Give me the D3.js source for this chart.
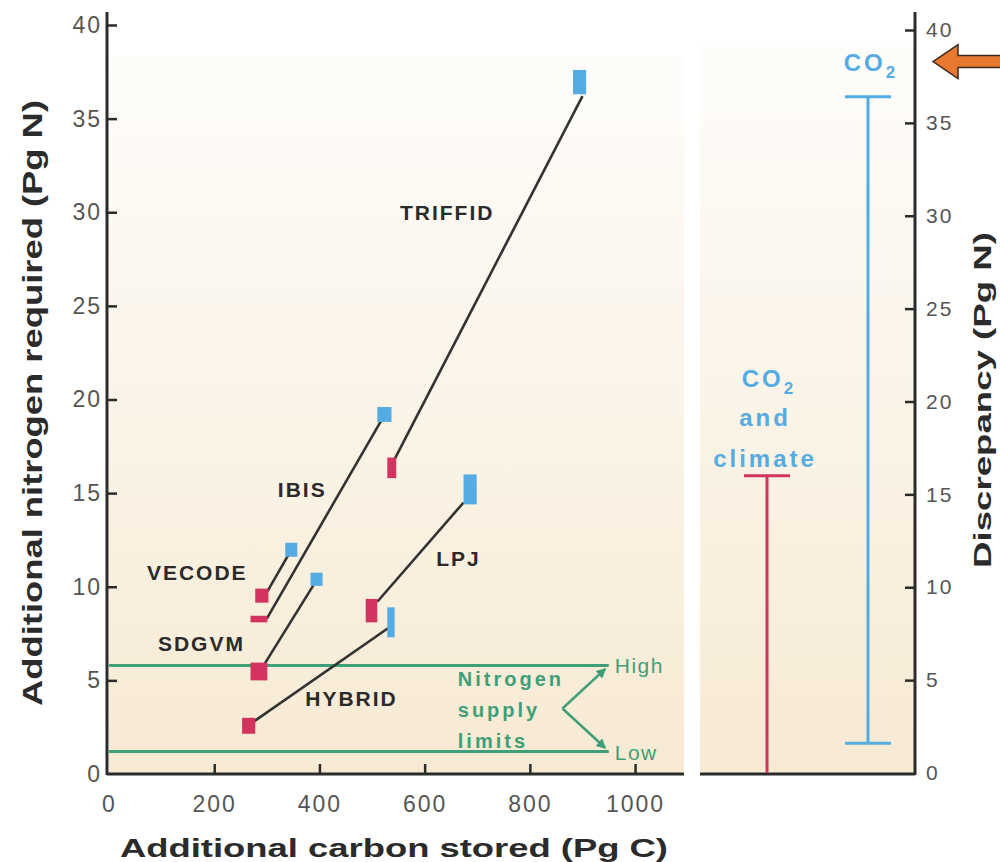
<!DOCTYPE html>
<html>
<head>
<meta charset="utf-8">
<script src="https://cdn.jsdelivr.net/npm/d3@7/dist/d3.min.js"></script>
<style>
  body { margin: 0; background: #fff; }
  svg { display: block; font-family: "Liberation Sans", Arial, sans-serif; }
</style>
</head>
<body>
<svg width="1000" height="862"></svg>
<script>
// models, line ends (Pg C, Pg N)
const models = ["TRIFFID", "IBIS", "VECODE", "SDGVM", "HYBRID", "LPJ"]
const startC = [539, 300, 300, 294, 275, 510]
const startN = [16.6, 8.3, 9.7, 5.8, 2.8, 9.2]
const endC = [900, 518, 341, 389, 531, 674]
const endN = [36.2, 18.9, 11.7, 10.1, 7.8, 14.5]

// red boxes: CO2 and climate runs
const climCLo = [529, 269, 278, 269, 253, 488]
const climCHi = [546, 301, 303, 301, 278, 510]
const climNLo = [15.8, 8.1, 9.15, 5.0, 2.15, 8.1]
const climNHi = [16.9, 8.45, 9.9, 5.95, 3.0, 9.35]

// blue boxes: CO2 only runs
const co2CLo = [882, 510, 335, 383, 529, 674]
const co2CHi = [907, 537, 358, 406, 543, 699]
const co2NLo = [36.3, 18.8, 11.6, 10.05, 7.3, 14.4]
const co2NHi = [37.6, 19.6, 12.35, 10.75, 8.9, 16.0]

// model label anchors
const labelC = [553, 321, 72, 93, 373, 622]
const labelN = [30.0, 15.2, 10.8, 7.0, 4.05, 11.55]

const xTicks = [0, 200, 400, 600, 800, 1000]
const yTicks = [0, 5, 10, 15, 20, 25, 30, 35, 40]

const supplyNames = ["High", "Low"]
const supplyN = [5.8, 1.2]
const supplyEndC = 950
const bracketC = 862
const bracketN = 3.5

const discCats = ["CO2 and climate", "CO2"]
const discLo = [0, 1.6]
const discHi = [16, 36.4]
const arrowN = 38.3

const red = "#d3335f", blue = "#55ace3", green = "#3f9f77", ink = "#2b2b2b"

const svg = d3.select("svg")
const x = d3.scaleLinear().domain([0, 1093]).range([109, 684])
const y = d3.scaleLinear().domain([0, 40]).range([774, 25])
const ry = d3.scaleLinear().domain([0, 40]).range([773, 30])
const dx = d3.scalePoint().domain(discCats).range([767, 868])
const rightLeft = 700, rightAxisX = 915

// gradient background
const defs = svg.append("defs")
const grad = defs.append("linearGradient").attr("id", "bg").attr("x1", 0).attr("y1", 0).attr("x2", 0).attr("y2", 1)
grad.append("stop").attr("offset", "0%").attr("stop-color", "#fefdfb")
grad.append("stop").attr("offset", "100%").attr("stop-color", "#f7ead3")

const mk = (id, col) => defs.append("marker").attr("id", id)
  .attr("viewBox", "0 0 10 10").attr("refX", 8).attr("refY", 5)
  .attr("markerWidth", 4).attr("markerHeight", 4).attr("orient", "auto")
  .append("path").attr("d", "M0,0L10,5L0,10z").attr("fill", col)
mk("garrow", green)

const panelTop = 56
svg.append("rect").attr("x", x(0)).attr("y", panelTop)
  .attr("width", x.range()[1] - x(0)).attr("height", y(0) - panelTop).attr("fill", "url(#bg)")
svg.append("rect").attr("x", rightLeft).attr("y", panelTop - 10)
  .attr("width", rightAxisX - rightLeft).attr("height", y(0) - panelTop + 10).attr("fill", "url(#bg)")

// nitrogen supply limits
svg.append("g").selectAll("line").data(supplyN).enter().append("line")
  .attr("x1", x(0)).attr("x2", x(supplyEndC))
  .attr("y1", d => y(d)).attr("y2", d => y(d))
  .attr("stroke", green).attr("stroke-width", 3)

svg.append("g").selectAll("path").data(supplyN).enter().append("path")
  .attr("d", d => `M${x(bracketC)},${y(bracketN)}L${x(supplyEndC) - 4},${y(d) + (d > bracketN ? 4 : -4)}`)
  .attr("stroke", green).attr("stroke-width", 2.5).attr("fill", "none")
  .attr("marker-end", "url(#garrow)")

svg.append("g").selectAll("text").data(supplyNames).enter().append("text")
  .attr("x", x(supplyEndC) + 6).attr("y", (d, i) => y(supplyN[i]) + 8)
  .attr("font-size", 21).attr("letter-spacing", 1.5).attr("fill", green)
  .text(d => d)

const supLab = svg.append("text").attr("font-size", 20).attr("font-weight", "bold")
  .attr("letter-spacing", 3).attr("fill", green)
;["Nitrogen", "supply", "limits"].forEach((t, i) => {
  supLab.append("tspan").attr("x", x(663)).attr("y", y(4.6) + i * 31 - 2).text(t)
})

// model lines
svg.append("g").selectAll("line").data(models).enter().append("line")
  .attr("x1", (d, i) => x(startC[i])).attr("y1", (d, i) => y(startN[i]))
  .attr("x2", (d, i) => x(endC[i])).attr("y2", (d, i) => y(endN[i]))
  .attr("stroke", "#333").attr("stroke-width", 2.6)

// boxes
const boxes = (lo, hi, nlo, nhi, col) => svg.append("g").selectAll("rect").data(models).enter().append("rect")
  .attr("x", (d, i) => x(lo[i])).attr("width", (d, i) => x(hi[i]) - x(lo[i]))
  .attr("y", (d, i) => y(nhi[i])).attr("height", (d, i) => y(nlo[i]) - y(nhi[i]))
  .attr("fill", col)
boxes(climCLo, climCHi, climNLo, climNHi, red)
boxes(co2CLo, co2CHi, co2NLo, co2NHi, blue)

svg.append("g").selectAll("text").data(models).enter().append("text")
  .attr("x", (d, i) => x(labelC[i])).attr("y", (d, i) => y(labelN[i]) + 8)
  .attr("font-size", 21).attr("font-weight", "bold").attr("letter-spacing", 2).attr("fill", "#2a2a2a")
  .text(d => d)

// axes
const tickFont = sel => sel.selectAll("text").attr("font-size", 23).attr("letter-spacing", 2)
  .attr("fill", "#555").attr("font-family", "Liberation Sans, Arial, sans-serif")

const xAxis = svg.append("g").attr("transform", `translate(0,${y(0)})`)
  .call(d3.axisBottom(x).tickValues(xTicks).tickFormat(d3.format("d")).tickSize(-10).tickPadding(22).tickSizeOuter(0))
xAxis.select(".domain").remove()
xAxis.selectAll("line").attr("stroke", ink).attr("stroke-width", 2.5)
xAxis.call(tickFont)
xAxis.selectAll(".tick").filter(d => d === 0).select("line").remove()

const yAxis = svg.append("g").attr("transform", `translate(${x(0) - 2},0)`)
  .call(d3.axisLeft(y).tickValues(yTicks).tickSize(-10).tickPadding(5).tickSizeOuter(0))
yAxis.select(".domain").remove()
yAxis.selectAll("line").attr("stroke", ink).attr("stroke-width", 2.5)
yAxis.call(tickFont)
yAxis.selectAll(".tick").filter(d => d === 0).select("line").remove()

svg.append("line").attr("x1", x(0) - 2).attr("x2", x(0) - 2).attr("y1", 12).attr("y2", y(0) + 1)
  .attr("stroke", ink).attr("stroke-width", 3)
svg.append("line").attr("x1", x(0) - 2).attr("x2", x.range()[1]).attr("y1", y(0)).attr("y2", y(0))
  .attr("stroke", ink).attr("stroke-width", 3)

const rAxis = svg.append("g").attr("transform", `translate(${rightAxisX},0)`)
  .call(d3.axisRight(ry).tickValues(yTicks).tickSize(-10).tickPadding(11).tickSizeOuter(0))
rAxis.select(".domain").remove()
rAxis.selectAll("line").attr("stroke", ink).attr("stroke-width", 2.5)
rAxis.call(tickFont)
rAxis.selectAll("text").attr("font-size", 21)
rAxis.selectAll(".tick").filter(d => d === 0).select("line").remove()

svg.append("line").attr("x1", rightAxisX).attr("x2", rightAxisX).attr("y1", 12).attr("y2", y(0) + 1)
  .attr("stroke", ink).attr("stroke-width", 3)
svg.append("line").attr("x1", rightLeft).attr("x2", rightAxisX).attr("y1", y(0)).attr("y2", y(0))
  .attr("stroke", ink).attr("stroke-width", 3)

// discrepancy bars
const discCol = [red, blue]
const dg = svg.append("g")
dg.selectAll(".stem").data(discCats).enter().append("line")
  .attr("x1", d => dx(d)).attr("x2", d => dx(d))
  .attr("y1", (d, i) => ry(discLo[i])).attr("y2", (d, i) => ry(discHi[i]))
  .attr("stroke", (d, i) => discCol[i]).attr("stroke-width", 3)
dg.selectAll(".capHi").data(discCats).enter().append("line")
  .attr("x1", d => dx(d) - 23).attr("x2", d => dx(d) + 23)
  .attr("y1", (d, i) => ry(discHi[i])).attr("y2", (d, i) => ry(discHi[i]))
  .attr("stroke", (d, i) => discCol[i]).attr("stroke-width", 3)
dg.selectAll(".capLo").data(discCats.filter((d, i) => discLo[i] > 0)).enter().append("line")
  .attr("x1", d => dx(d) - 23).attr("x2", d => dx(d) + 23)
  .attr("y1", d => ry(discLo[discCats.indexOf(d)])).attr("y2", d => ry(discLo[discCats.indexOf(d)]))
  .attr("stroke", d => discCol[discCats.indexOf(d)]).attr("stroke-width", 3)

// CO2 labels
const co2Text = (cx, by) => {
  const t = svg.append("text").attr("x", cx).attr("y", by).attr("text-anchor", "middle")
    .attr("font-size", 24).attr("font-weight", "bold").attr("letter-spacing", 3).attr("fill", blue)
  t.append("tspan").text("CO")
  t.append("tspan").attr("dy", 7).attr("font-size", 17).text("2")
  return t
}
co2Text(dx("CO2") + 3, ry(discHi[1]) - 26)
co2Text(dx("CO2 and climate") + 2, ry(discHi[0]) - 89)
;["and", "climate"].forEach((t, i) => {
  svg.append("text").attr("x", dx("CO2 and climate") - 2).attr("y", ry(discHi[0]) - 50 + i * 41)
    .attr("text-anchor", "middle").attr("font-size", 24).attr("font-weight", "bold")
    .attr("letter-spacing", 3).attr("fill", blue).text(t)
})

// orange arrow
const ay = ry(arrowN), ax = rightAxisX + 18
svg.append("path")
  .attr("d", `M${ax},${ay}L${ax + 25},${ay - 17}L${ax + 25},${ay - 6}L1002,${ay - 6}L1002,${ay + 6}L${ax + 25},${ay + 6}L${ax + 25},${ay + 17}Z`)
  .attr("fill", "#e8782f").attr("stroke", "#3a2a20").attr("stroke-width", 1.5)

// titles
svg.append("text").attr("x", 394).attr("y", 857).attr("text-anchor", "middle")
  .attr("font-size", 26).attr("font-weight", "bold").attr("fill", ink)
  .attr("textLength", 548).attr("lengthAdjust", "spacingAndGlyphs")
  .text("Additional carbon stored (Pg C)")

svg.append("text").attr("transform", "translate(42,403) rotate(-90)").attr("text-anchor", "middle")
  .attr("font-size", 28).attr("font-weight", "bold").attr("fill", ink)
  .attr("textLength", 606).attr("lengthAdjust", "spacingAndGlyphs")
  .text("Additional nitrogen required (Pg N)")

svg.append("text").attr("transform", "translate(991,400) rotate(-90)").attr("text-anchor", "middle")
  .attr("font-size", 24).attr("font-weight", "bold").attr("fill", ink)
  .attr("textLength", 336).attr("lengthAdjust", "spacingAndGlyphs")
  .text("Discrepancy (Pg N)")
</script>
</body>
</html>
